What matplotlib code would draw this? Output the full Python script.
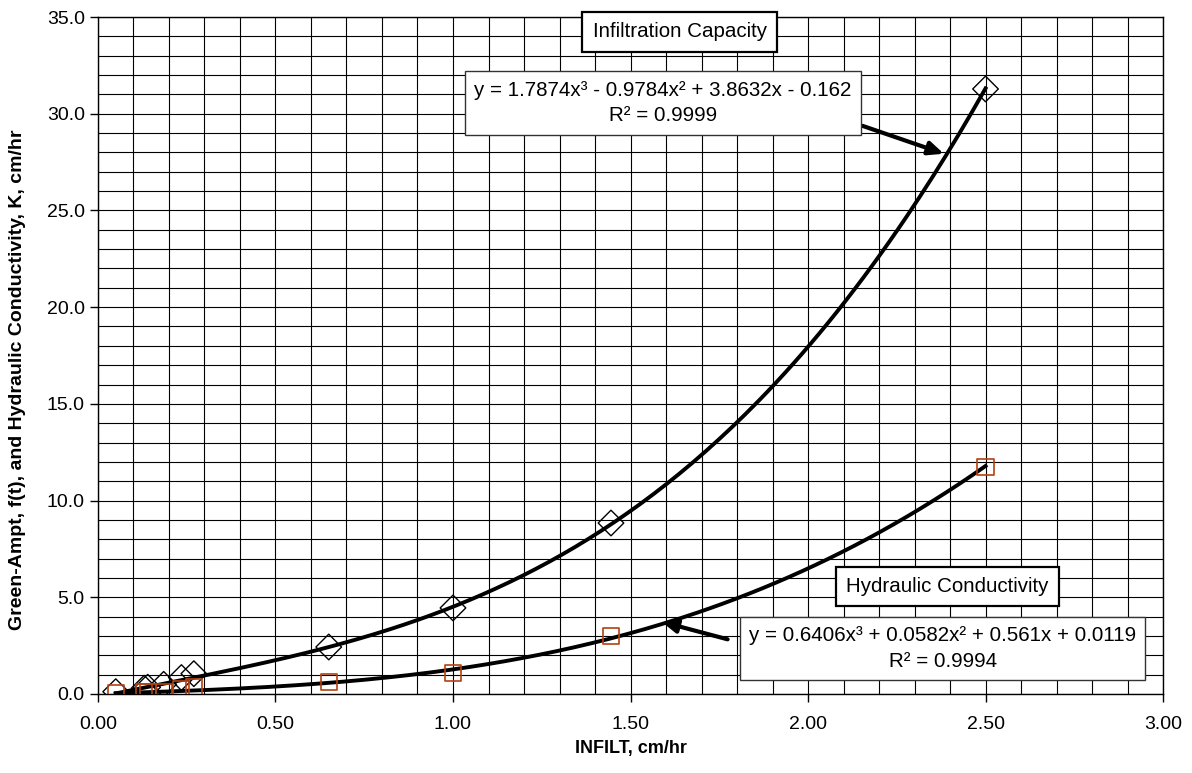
import numpy as np
import matplotlib.pyplot as plt
from matplotlib.ticker import MultipleLocator

plt.rcParams['font.family'] = ['Liberation Sans', 'DejaVu Sans']

# Datos medidos: infiltracion (cm/hr) vs capacidad de infiltracion y conductividad
infilt = [0.05, 0.13, 0.14, 0.185, 0.235, 0.27, 0.65, 1.00, 1.445, 2.50]
f_t = [0.12, 0.30, 0.35, 0.50, 0.85, 1.05, 2.43, 4.45, 8.84, 31.28]
k_hyd = [0.05, 0.12, 0.12, 0.12, 0.25, 0.38, 0.62, 1.09, 3.00, 11.74]

# Coeficientes de la linea de tendencia polinomica (grado 3)
coef_f = [1.7874, -0.9784, 3.8632, -0.162]
coef_k = [0.6406, 0.0582, 0.561, 0.0119]
r2_f = 0.9999
r2_k = 0.9994

fig = plt.figure(figsize=(11.92, 7.73), dpi=100)
ax = fig.add_axes([0.0822, 0.1022, 0.8935, 0.8758])

# Lineas de tendencia
xs = np.linspace(min(infilt), max(infilt), 200)
ax.plot(xs, np.polyval(coef_f, xs), color='black', lw=2.8, zorder=3)
ax.plot(xs, np.polyval(coef_k, xs), color='black', lw=2.8, zorder=3)

# Puntos
ax.scatter(infilt, f_t, marker='D', s=170, facecolors='none',
           edgecolors='black', linewidths=1.0, zorder=4)
ax.scatter(infilt, k_hyd, marker='s', s=135, facecolors='none',
           edgecolors='#b5410f', linewidths=1.2, zorder=4)

ax.set_xlim(0, 3.0)
ax.set_ylim(0, 35.0)
ax.xaxis.set_major_locator(MultipleLocator(0.5))
ax.xaxis.set_minor_locator(MultipleLocator(0.1))
ax.yaxis.set_major_locator(MultipleLocator(5))
ax.yaxis.set_minor_locator(MultipleLocator(1))
ax.xaxis.set_major_formatter(lambda v, p: f'{v:.2f}')
ax.yaxis.set_major_formatter(lambda v, p: f'{v:.1f}')
ax.grid(which='both', color='black', lw=0.8)
ax.set_axisbelow(True)
ax.tick_params(which='major', direction='out', length=6, width=1, labelsize=14)
ax.tick_params(axis='x', pad=10)
ax.tick_params(which='minor', length=0)
for s in ax.spines.values():
    s.set_linewidth(1.0)

ax.set_xlabel('INFILT, cm/hr', fontsize=13, fontweight='bold', labelpad=5)
ax.set_ylabel('Green-Ampt, f(t), and Hydraulic Conductivity, K, cm/hr',
              fontsize=14, fontweight='bold', labelpad=14)
ax.yaxis.set_label_coords(-0.068, 0.464)

def ecuacion(c):
    def term(v, suf, first=False):
        if first:
            return f'{v:g}{suf}'
        sign = '-' if v < 0 else '+'
        return f' {sign} {abs(v):g}{suf}'
    return (term(c[0], 'x³', True) + term(c[1], 'x²') +
            term(c[2], 'x') + term(c[3], ''))

# Etiquetas de las series
ax.text(1.638, 34.23, 'Infiltration Capacity', ha='center', va='center',
        fontsize=14.8, zorder=6,
        bbox=dict(boxstyle='square,pad=0.5', fc='white', ec='black', lw=1.6))
ax.text(2.393, 5.56, 'Hydraulic Conductivity', ha='center', va='center',
        fontsize=14.8, zorder=6,
        bbox=dict(boxstyle='square,pad=0.5', fc='white', ec='black', lw=1.6))

# Ecuaciones de las tendencias
ax.text(1.591, 30.56, 'y = ' + ecuacion(coef_f) + f'\nR² = {r2_f}',
        ha='center', va='center', fontsize=14.8, linespacing=1.45, zorder=6,
        bbox=dict(boxstyle='square,pad=0.45', fc='white', ec='#333333', lw=1.0))
ax.text(2.379, 2.35, 'y = ' + ecuacion(coef_k) + f'\nR² = {r2_k}',
        ha='center', va='center', fontsize=14.8, linespacing=1.45, zorder=6,
        bbox=dict(boxstyle='square,pad=0.45', fc='white', ec='#333333', lw=1.0))

# Flechas hacia las curvas
xa = 2.39
ax.annotate('', xy=(xa, np.polyval(coef_f, xa)), xytext=(2.146, 29.42),
            arrowprops=dict(arrowstyle='-|>,head_length=0.9,head_width=0.4',
                            color='black', lw=3), zorder=5)
xb = 1.58
ax.annotate('', xy=(xb, np.polyval(coef_k, xb) + 0.2), xytext=(1.781, 2.79),
            arrowprops=dict(arrowstyle='-|>,head_length=0.9,head_width=0.4',
                            color='black', lw=3), zorder=5)

fig.savefig('out.png', dpi=100)
